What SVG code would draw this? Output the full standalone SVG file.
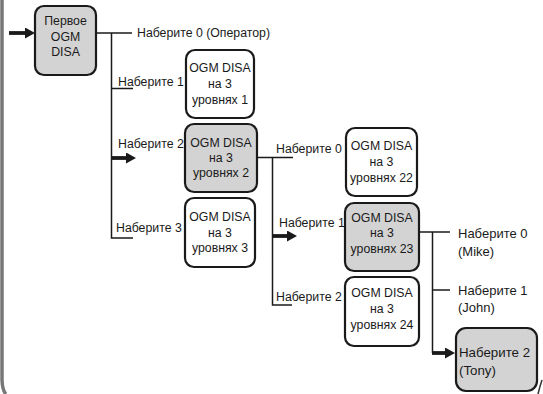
<svg xmlns="http://www.w3.org/2000/svg" width="543" height="394" viewBox="0 0 543 394">
<style>
text{font-family:"Liberation Sans",Arial,sans-serif;font-size:12.3px;fill:#1a1a1a}
.c{text-anchor:middle}
.r{font-size:13px}
.t{font-size:13.3px}
.box{stroke:#1a1a1a;stroke-width:2.2}
.g{fill:#d3d3d3}
.w{fill:#fff}
.ln{fill:none;stroke:#1a1a1a;stroke-width:1.5}
.ar{fill:none;stroke:#1a1a1a;stroke-width:3.8;marker-end:url(#ah)}
</style>
<defs>
<marker id="ah" viewBox="0 0 10 10" refX="2" refY="5" markerWidth="10" markerHeight="11" markerUnits="userSpaceOnUse" orient="auto" preserveAspectRatio="none">
<path d="M0,0 L10,5 L0,10 z" fill="#1a1a1a"/>
</marker>
</defs>
<rect width="543" height="394" fill="#fff"/>
<path d="M2,0 V380 Q2.5,391 6,394" fill="none" stroke="#777" stroke-width="3.5"/>
<path d="M542,380 Q540,386 538,394" fill="none" stroke="#333" stroke-width="1.5"/>
<g id="connectors">
<path class="ln" d="M96,33 H132"/>
<path class="ln" d="M111.5,33 V238 H133"/>
<path class="ln" d="M111.5,88.5 H133"/>
<path class="ln" d="M257,157.5 H293"/>
<path class="ln" d="M272.5,157.5 V305 H292"/>
<path class="ln" d="M419,232 H450"/>
<path class="ln" d="M432.5,232 V353"/>
<path class="ln" d="M432.5,290 H450"/>
<path class="ar" d="M9,33 H27"/>
<path class="ar" d="M112,158 H128"/>
<path class="ar" d="M273,236 H289"/>
<path class="ar" d="M432,353 H447"/>
</g>
<g id="labels">
<text x="137" y="37">Наберите 0 (Оператор)</text>
<text x="118" y="85.5">Наберите 1</text>
<text x="118" y="148">Наберите 2</text>
<text x="116" y="232">Наберите 3</text>
<text x="276" y="153">Наберите 0</text>
<text x="279" y="227">Наберите 1</text>
<text x="276" y="301">Наберите 2</text>
<text class="r" x="458" y="237.5">Наберите 0</text>
<text class="r" x="458" y="255.5">(Mike)</text>
<text class="r" x="458" y="294.5">Наберите 1</text>
<text class="r" x="458" y="312">(John)</text>
</g>
<g id="n0">
<rect class="box g" x="35" y="6" width="61" height="69" rx="9"/>
<text class="c" x="65.5" y="25">Первое</text>
<text class="c" x="65.5" y="40.5">OGM</text>
<text class="c" x="65.5" y="56">DISA</text>
</g>
<g id="n1">
<rect class="box w" x="186" y="50" width="68" height="68" rx="9"/>
<text class="c" x="220" y="72">OGM DISA</text>
<text class="c" x="220" y="88">на 3</text>
<text class="c" x="220" y="104">уровнях 1</text>
</g>
<g id="n2">
<rect class="box g" x="185" y="124" width="72" height="68" rx="9"/>
<text class="c" x="221" y="147">OGM DISA</text>
<text class="c" x="221" y="162">на 3</text>
<text class="c" x="221" y="177">уровнях 2</text>
</g>
<g id="n3">
<rect class="box w" x="185" y="198" width="70" height="69" rx="9"/>
<text class="c" x="220" y="221">OGM DISA</text>
<text class="c" x="220" y="237">на 3</text>
<text class="c" x="220" y="252">уровнях 3</text>
</g>
<g id="n22">
<rect class="box w" x="346" y="128" width="71" height="68" rx="9"/>
<text class="c" x="381.5" y="150">OGM DISA</text>
<text class="c" x="381.5" y="166">на 3</text>
<text class="c" x="381.5" y="182">уровнях 22</text>
</g>
<g id="n23">
<rect class="box g" x="345" y="203" width="74" height="68" rx="9"/>
<text class="c" x="382" y="222">OGM DISA</text>
<text class="c" x="382" y="237">на 3</text>
<text class="c" x="382" y="253">уровнях 23</text>
</g>
<g id="n24">
<rect class="box w" x="345" y="277" width="74" height="69" rx="9"/>
<text class="c" x="382" y="297">OGM DISA</text>
<text class="c" x="382" y="313">на 3</text>
<text class="c" x="382" y="329">уровнях 24</text>
</g>
<g id="tony">
<rect class="box g" x="456" y="328" width="81" height="63" rx="10"/>
<text class="t" x="459" y="357">Наберите 2</text>
<text class="t" x="459" y="375">(Tony)</text>
</g>
</svg>
